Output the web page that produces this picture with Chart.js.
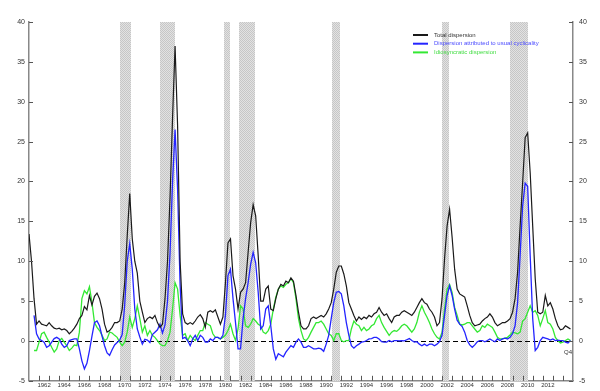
<!DOCTYPE html>
<html>
<head>
<meta charset="utf-8">
<script src="https://cdn.jsdelivr.net/npm/chart.js@4.4.0/dist/chart.umd.min.js"></script>
<style>
  html, body { margin: 0; padding: 0; background: #fff; }
</style>
</head>
<body>
<canvas id="myChart" width="600" height="391"></canvas>
<script>
// quarterly values, first quarter = 1961 Q1
var firstYear = 1961;

var totalDispersion = [
    13.4, 10.0, 5.3, 2.1,   2.5, 2.1, 2.0, 1.9,   2.3, 1.9, 1.6, 1.5,   1.6, 1.4, 1.5, 1.3,
    0.9, 1.2, 1.6, 2.1,     2.8, 3.2, 4.3, 3.9,   5.7, 4.5, 5.6, 6.0,   5.3, 4.0, 2.1, 1.1,
    1.3, 1.7, 2.3, 2.3,     2.5, 4.0, 7.3, 13.2,  18.5, 12.8, 10.0, 8.5, 5.0, 3.6, 2.3, 2.8,
    3.0, 2.8, 3.2, 2.3,     1.7, 2.1, 5.3, 10.0,  18.0, 28.0, 37.0, 27.0, 10.0, 3.4, 2.3, 2.1,
    2.3, 2.1, 2.5, 3.0,     3.3, 2.8, 1.7, 3.6,   3.8, 3.6, 3.9, 3.0,   2.1, 3.0, 7.3, 12.3,
    12.8, 8.2, 6.5, 4.0,    6.1, 6.5, 7.3, 11.1,  14.8, 17.1, 15.7, 10.7, 5.0, 5.0, 6.5, 6.9,
    4.0, 3.8, 5.3, 6.5,     7.1, 6.9, 7.5, 7.3,   7.9, 7.5, 5.7, 3.6,   1.9, 1.5, 1.5, 1.9,
    2.8, 3.0, 2.8, 3.0,     3.2, 3.0, 3.4, 4.0,   4.8, 6.5, 8.6, 9.4,   9.4, 8.4, 6.9, 4.8,
    4.0, 3.2, 2.5, 3.0,     2.7, 3.0, 2.8, 3.2,   3.0, 3.4, 3.6, 4.2,   3.6, 3.2, 3.4, 2.8,
    2.3, 3.0, 3.2, 3.2,     3.6, 3.8, 3.6, 3.4,   3.2, 3.6, 4.2, 4.8,   5.3, 4.8, 4.6, 4.0,
    3.6, 3.0, 1.9, 2.3,     5.3, 10.3, 14.4, 16.5, 13.0, 9.0, 6.5, 5.9, 5.7, 5.5, 4.4, 3.2,
    2.3, 1.9, 2.0, 2.1,     2.5, 2.8, 3.0, 3.4,   3.0, 2.3, 1.9, 2.1,   2.3, 2.3, 2.5, 2.8,
    3.6, 5.3, 8.6, 14.4,    19.8, 25.5, 26.1, 21.1, 14.4, 7.8, 3.6, 3.4, 3.6, 5.7, 4.4, 4.8,
    4.0, 2.8, 1.9, 1.4,     1.5, 1.9, 1.7, 1.5
];

var cyclicalDispersion = [
    null, null, 3.2, 0.9,   0.25, 0.05, -0.15, -0.8, -0.6, -0.15, 0.3, 0.45, 0.25, -0.4, -0.8, -0.6,
    0.05, 0.15, 0.25, 0.25, -1.0, -2.5, -3.5, -2.8, -1.2, 0.6, 2.3, 2.5,  1.9, 0.6, -0.6, -1.5,
    -1.8, -1.1, -0.5, -0.2, 0.1, 0.8, 4.5, 10.0,  12.2, 9.0, 4.0, 1.5,   0.5, -0.4, 0.2, 0.1,
    -0.2, 0.8, 1.1, 1.4,    2.1, 1.0, 2.0, 5.0,   11.0, 20.0, 26.5, 19.0, 7.0, 0.3, 0.45, 0.05,
    -0.6, 0.25, 0.7, 0.05,  0.7, 0.45, -0.15, -0.15, 0.25, 0.05, 0.45, 0.45, 0.25, 0.7, 3.2, 8.2,
    9.0, 5.3, 2.3, -1.0,    -1.0, 2.8, 5.3, 7.3,  9.6, 11.1, 9.8, 6.1,  1.5, 1.9, 4.0, 4.4,
    1.9, -1.0, -2.3, -1.6,  -1.8, -2.0, -1.4, -1.0, -0.6, -0.8, -0.15, 0.25, -0.15, -0.8, -0.8, -0.6,
    -0.8, -1.0, -1.0, -0.9, -1.0, -1.3, -0.4, 0.7, 2.8, 4.8, 6.1, 6.2,   5.9, 4.4, 2.3, 0.7,
    -0.6, -0.9, -0.6, -0.4, -0.15, -0.1, 0.05, 0.25, 0.3, 0.45, 0.45, 0.25, -0.1, -0.15, -0.15, 0.05,
    -0.1, 0.05, 0.05, 0.0,  0.05, 0.0, 0.15, 0.3, 0.05, -0.15, -0.1, -0.4, -0.6, -0.4, -0.6, -0.4,
    -0.4, -0.6, -0.4, -0.1, 0.7, 3.2, 5.7, 6.9,   5.7, 4.0, 2.6, 2.1,   1.8, 1.1, 0.05, -0.5,
    -0.8, -0.5, -0.1, 0.05, 0.05, -0.1, 0.05, 0.25, 0.05, -0.1, 0.25, 0.05, 0.25, 0.35, 0.25, 0.45,
    0.9, 1.9, 4.8, 10.7,    16.9, 19.8, 19.4, 10.7, 2.8, -1.2, -0.8, 0.05, 0.45, 0.35, 0.25, 0.1,
    0.25, 0.05, 0.1, 0.05,  0.05, -0.15, -0.25, 0.05
];

var idiosyncraticDispersion = [
    null, null, -1.2, -1.2, -0.15, 0.9, 1.1, 0.45, -0.15, -0.8, -1.4, -1.0, 0.05, 0.3, -0.15, -0.6,
    -1.2, -0.9, -0.5, -0.6, 1.1, 5.3, 6.3, 5.9,   6.8, 4.8, 2.3, 1.7,   1.3, 0.7, 0.05, 0.25,
    1.1, 1.0, 0.7, 0.45,    -0.15, -0.6, -0.15, 1.1, 3.0, 1.7, 2.8, 4.4, 2.8, 1.1, 1.9, 0.7,
    1.3, 0.7, 0.45, 0.05,   -0.4, -0.6, -0.6, 0.05, 1.1, 4.0, 7.3, 6.5,  3.2, 0.7, 0.9, 0.05,
    0.7, 0.3, 0.05, 0.7,    1.3, 1.3, 2.3, 2.1,   1.9, 0.9, 0.45, 0.45, 0.25, 0.45, 0.7, 1.3,
    2.1, 0.9, 0.05, 1.5,    4.4, 4.0, 1.9, 1.7,   2.1, 2.8, 2.5, 2.1,   1.9, 1.1, 0.9, 1.3,
    2.1, 4.0, 5.5, 6.5,     6.9, 6.7, 7.1, 7.3,   7.8, 7.3, 5.3, 2.8,   1.3, 0.25, 0.05, 0.45,
    1.1, 1.7, 2.3, 2.3,     2.5, 2.1, 1.5, 0.9,   0.7, 0.05, 0.9, 0.9,  0.05, -0.1, 0.05, 0.05,
    1.5, 2.5, 2.1, 1.9,     1.3, 1.7, 1.3, 1.5,   1.9, 2.1, 2.8, 3.2,   2.3, 1.7, 1.2, 0.7,
    1.1, 1.3, 1.2, 1.5,     1.9, 2.1, 1.9, 1.5,   1.1, 1.5, 2.3, 3.6,   4.4, 3.6, 3.0, 2.3,
    1.5, 0.9, 0.45, 0.25,   1.1, 4.0, 6.5, 7.1,   6.1, 4.2, 3.2, 2.1,   2.0, 2.1, 2.3, 2.3,
    1.9, 1.5, 1.1, 1.3,     1.9, 1.7, 2.1, 1.9,   1.7, 1.1, 0.45, 0.25, 0.25, 0.35, 0.45, 0.75,
    1.1, 1.0, 0.9, 1.1,     2.5, 2.8, 3.6, 4.4,   3.6, 3.8, 3.2, 1.9,   2.8, 3.8, 2.3, 2.1,
    1.5, 0.45, 0.05, -0.25, -0.15, 0.05, 0.25, 0.05
];

// shaded periods, in axis years
var recessions = [
    [1970.05, 1971.08], [1974.02, 1975.45], [1980.34, 1981.0], [1981.83, 1983.45],
    [1991.04, 1991.86], [2001.96, 2002.68], [2008.74, 2010.5]
];

var yearLabels = [1962, 1964, 1966, 1968, 1970, 1972, 1974, 1976, 1978, 1980, 1982, 1984, 1986,
    1988, 1990, 1992, 1994, 1996, 1998, 2000, 2002, 2004, 2006, 2008, 2010, 2012];
var yTicks = [-5, 0, 5, 10, 15, 20, 25, 30, 35, 40];

var quarters = totalDispersion.map(function (v, i) { return firstYear + i / 4; });

var FONT = "'Liberation Sans', Arial, sans-serif";

function makeStipple(ctx) {
    var c = document.createElement('canvas');
    c.width = 2; c.height = 2;
    var g = c.getContext('2d');
    g.fillStyle = '#e2e2e2'; g.fillRect(0, 0, 2, 2);
    g.fillStyle = '#c6c6c6'; g.fillRect(0, 0, 1, 1); g.fillRect(1, 1, 1, 1);
    return ctx.createPattern(c, 'repeat');
}

var backdrop = {
    id: 'backdrop',
    beforeDatasetsDraw: function (chart) {
        var ctx = chart.ctx, a = chart.chartArea, x = chart.scales.x, y = chart.scales.y;
        ctx.save();
        ctx.fillStyle = makeStipple(ctx);
        recessions.forEach(function (r) {
            var x0 = Math.round(x.getPixelForValue(r[0])), x1 = Math.round(x.getPixelForValue(r[1]));
            ctx.fillRect(x0, Math.round(a.top), x1 - x0, Math.round(a.bottom - a.top));
        });
        var y0 = Math.round(y.getPixelForValue(0)) + 0.5;
        ctx.strokeStyle = '#000';
        ctx.lineWidth = 1;
        ctx.setLineDash([5, 3]);
        ctx.beginPath();
        ctx.moveTo(a.left, y0);
        ctx.lineTo(a.right, y0);
        ctx.stroke();
        ctx.restore();
    },
    afterDraw: function (chart) {
        var ctx = chart.ctx, a = chart.chartArea, x = chart.scales.x, y = chart.scales.y;
        ctx.save();
        // inward tick marks
        ctx.strokeStyle = '#555';
        ctx.lineWidth = 1;
        ctx.beginPath();
        yTicks.forEach(function (v) {
            var py = Math.round(y.getPixelForValue(v)) + 0.5;
            ctx.moveTo(a.left, py); ctx.lineTo(a.left + 4, py);
            ctx.moveTo(a.right - 4, py); ctx.lineTo(a.right, py);
        });
        for (var yr = 1962; yr <= 2014; yr++) {
            var px = Math.round(x.getPixelForValue(yr)) + 0.5;
            ctx.moveTo(px, a.bottom); ctx.lineTo(px, a.bottom - 5);
        }
        ctx.stroke();

        // legend
        var legendColors = ['#333333', '#4b4bff', '#44dd44'];
        ctx.font = '6px ' + FONT;
        ctx.textBaseline = 'middle';
        chart.data.datasets.forEach(function (ds, i) {
            var ly = 35 + i * 8.7;
            ctx.strokeStyle = ds.borderColor;
            ctx.lineWidth = 2;
            ctx.beginPath();
            ctx.moveTo(a.right - 160, ly); ctx.lineTo(a.right - 145, ly);
            ctx.stroke();
            ctx.fillStyle = legendColors[i];
            ctx.fillText(ds.label, a.right - 139, ly);
        });

        // last observation marker
        ctx.fillStyle = '#333';
        ctx.textAlign = 'center';
        ctx.fillText('Q4', x.getPixelForValue(2014.5), y.getPixelForValue(-1.4));
        ctx.restore();
    }
};

var ctx = document.getElementById('myChart').getContext('2d');

var myChart = new Chart(ctx, {
    type: 'line',
    data: {
        labels: quarters,
        datasets: [{
            label: 'Total dispersion',
            data: totalDispersion,
            borderColor: '#1a1a1a',
            borderWidth: 1.2
        },
        {
            label: 'Dispersion attributed to usual cyclicality',
            data: cyclicalDispersion,
            borderColor: '#2424ff',
            borderWidth: 1.3
        },
        {
            label: 'Idiosyncratic dispersion',
            data: idiosyncraticDispersion,
            borderColor: '#33e833',
            borderWidth: 1.3
        }]
    },
    options: {
        responsive: false,
        animation: false,
        devicePixelRatio: 1,
        spanGaps: false,
        elements: {
            point: { radius: 0 },
            line: { tension: 0 }
        },
        layout: { padding: { top: 22, left: 0, right: 0, bottom: 0 } },
        plugins: {
            legend: { display: false },
            tooltip: { enabled: false }
        },
        scales: {
            x: {
                type: 'linear',
                min: 1961,
                max: 2015,
                grid: { display: true, drawOnChartArea: false, drawTicks: false },
                border: { display: true, color: '#888', width: 1.5 },
                afterBuildTicks: function (scale) {
                    scale.ticks = yearLabels.map(function (yr) { return { value: yr + 0.5 }; });
                },
                afterFit: function (scale) { scale.height = 10; },
                ticks: {
                    autoSkip: false,
                    maxRotation: 0,
                    padding: 1,
                    color: '#333',
                    font: { family: FONT, size: 6 },
                    callback: function (value) { return String(Math.floor(value)); }
                }
            },
            y: {
                position: 'left',
                min: -5,
                max: 40,
                grid: { display: true, drawOnChartArea: false, drawTicks: false },
                border: { display: true, color: '#888', width: 1.5 },
                afterFit: function (scale) { scale.width = 29; },
                ticks: {
                    stepSize: 5,
                    padding: 4,
                    color: '#333',
                    font: { family: FONT, size: 7 }
                }
            },
            y2: {
                position: 'right',
                min: -5,
                max: 40,
                grid: { display: true, drawOnChartArea: false, drawTicks: false },
                border: { display: true, color: '#888', width: 1.5 },
                afterFit: function (scale) { scale.width = 27; },
                ticks: {
                    stepSize: 5,
                    padding: 6,
                    color: '#333',
                    font: { family: FONT, size: 7 }
                }
            }
        }
    },
    plugins: [backdrop]
});
</script>
</body>
</html>
